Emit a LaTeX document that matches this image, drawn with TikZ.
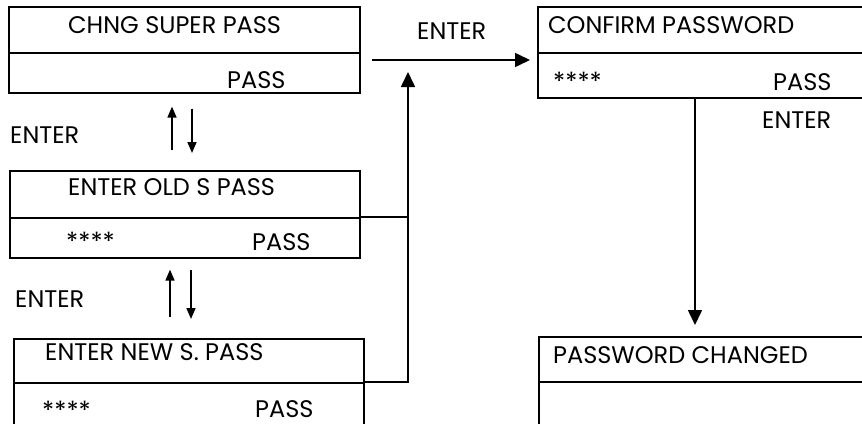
\documentclass[tikz,border=0pt]{standalone}
\usepackage{fontspec}
\setmainfont{Poppins}
\usetikzlibrary{arrows.meta, positioning}

\begin{document}
\begin{tikzpicture}[x=1pt, y=-1pt,
    every node/.style={font=\fontsize{24}{28}\selectfont},
    row/.style={rectangle, draw=black, line width=1.6pt, inner sep=0pt, anchor=north west},
    txt/.style={inner sep=0pt, anchor=base west},
    stars/.style={inner sep=0pt, anchor=base west, font=\fontsize{25}{28}\selectfont},
    arrow/.style={line width=1.6pt, -{Triangle[length=15pt,width=14pt]}},
    smallarrow/.style={line width=1.6pt, -{Triangle[length=11pt,width=9pt]}}
]
\clip (0,0) rectangle (862,423);

% Screens
\node (chng) [row, minimum width=351pt, minimum height=46pt] at (8,6) {};
\node (chngpass) [row, minimum width=351pt, minimum height=40pt] at (8,52) {};
\node (old) [row, minimum width=350pt, minimum height=47pt] at (9,170) {};
\node (oldpass) [row, minimum width=350pt, minimum height=40pt] at (9,217) {};
\node (new) [row, minimum width=350pt, minimum height=44pt] at (13,338) {};
\node (newpass) [row, minimum width=350pt, minimum height=46pt] at (13,382) {};
\node (conf) [row, minimum width=400pt, minimum height=46pt] at (537,6) {};
\node (confpass) [row, minimum width=400pt, minimum height=45pt] at (537,52) {};
\node (done) [row, minimum width=400pt, minimum height=45pt] at (538,336) {};
\node (doneinfo) [row, minimum width=400pt, minimum height=46pt] at (538,381) {};

% Texts
\node[txt] at (68,33) {CHNG SUPER PASS};
\node[txt] at (227,88) {PASS};
\node[txt] at (68,195) {ENTER OLD S PASS};
\node[stars] at (66,250) {****};
\node[txt] at (252,250) {PASS};
\node[txt] at (45,360) {ENTER NEW S. PASS};
\node[stars] at (42,419) {****};
\node[txt] at (255,417) {PASS};
\node[txt] at (548,33) {CONFIRM PASSWORD};
\node[stars] at (553,90) {****};
\node[txt] at (773,90) {PASS};
\node[txt] at (553,363) {PASSWORD CHANGED};

% Key labels
\node (enter1) [txt] at (10,143) {ENTER};
\node (enter2) [txt] at (15,307) {ENTER};
\node (enter3) [txt] at (417,39) {ENTER};
\node (enter4) [txt] at (762,128) {ENTER};

% Arrows
\coordinate (upA) at (172,0);
\coordinate (downA) at (192,0);
\coordinate (upB) at (170,0);
\coordinate (downB) at (191,0);
\coordinate (bus) at (408,60);
\coordinate (entry) at (372,60);
\coordinate (down) at (695,0);

\draw[smallarrow, shorten <=20pt, shorten >=13pt] (old.north -| upA) -- (chngpass.south -| upA);
\draw[smallarrow, shorten <=15pt, shorten >=17pt] (chngpass.south -| downA) -- (old.north -| downA);
\draw[smallarrow, shorten <=21pt, shorten >=11pt] (new.north -| upB) -- (oldpass.south -| upB);
\draw[smallarrow, shorten <=11pt, shorten >=19pt] (oldpass.south -| downB) -- (new.north -| downB);

\draw[line width=1.6pt] (oldpass.north east) -- (oldpass.north east -| bus);
\draw[arrow, shorten >=12pt] (newpass.north east) -| (bus);
\draw[arrow, shorten >=7pt] (entry) -- (entry -| confpass.west);
\draw[arrow, shorten >=11pt] (confpass.south -| down) -- (done.north -| down);

\end{tikzpicture}
\end{document}
